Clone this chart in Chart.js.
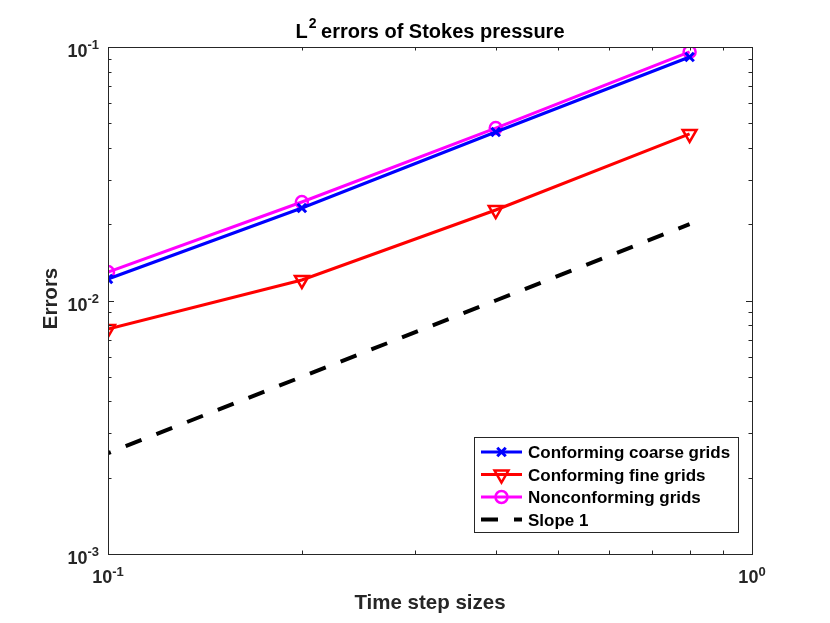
<!DOCTYPE html>
<html lang="en">
<head>
    <meta charset="UTF-8">
    <title>L2 errors of Stokes pressure</title>
    <script src="https://cdn.jsdelivr.net/npm/chart.js"></script>
    <style>
      html, body { margin: 0; padding: 0; background: #fff; }
      #wrap { width: 830px; height: 623px; }
    </style>
</head>
<body>
    <div id="wrap"><canvas id="errChart" width="830" height="623"></canvas></div>

    <script>
      // time step sizes (x) and the errors
      const stepSizes = [0.1, 0.2, 0.4, 0.8];
      const coarseErr = [0.01216, 0.02317, 0.0462, 0.0913];
      const fineErr = [0.00772, 0.01205, 0.02275, 0.0454];
      const nonconfErr = [0.01295, 0.02446, 0.0479, 0.0956];
      const slopeRef = [0.0025, 0.005, 0.01, 0.02];

      const seriesNames = [
        "Conforming coarse grids",
        "Conforming fine grids",
        "Nonconforming grids",
        "Slope 1"
      ];

      // decade tick labels (shown as 10^exp)
      const xTicks = [0.1, 1];
      const yTicks = [0.001, 0.01, 0.1];

      const FONT = "'Liberation Sans', Arial, Helvetica, sans-serif";
      const AXIS_COL = "#262626";

      function pts(ys) {
        return stepSizes.map(function (x, i) {
          return { x: x, y: ys[i] };
        });
      }

      // draws "10" with a raised exponent
      function drawPow(ctx, exp, x, y, align, baseSize, expSize, rise) {
        ctx.font = "bold " + baseSize + "px " + FONT;
        const wb = ctx.measureText("10").width;
        ctx.font = "bold " + expSize + "px " + FONT;
        const we = ctx.measureText(String(exp)).width;
        let start = x;
        if (align === "center") start = x - (wb + we) / 2;
        if (align === "right") start = x - (wb + we);
        ctx.textAlign = "left";
        ctx.textBaseline = "alphabetic";
        ctx.font = "bold " + baseSize + "px " + FONT;
        ctx.fillText("10", start, y);
        ctx.font = "bold " + expSize + "px " + FONT;
        ctx.fillText(String(exp), start + wb, y - rise);
      }

      // MATLAB-like frame: box, inward ticks, labels, title, legend
      const matlabFrame = {
        id: "matlabFrame",
        afterDatasetsDraw(chart) {
          const ctx = chart.ctx;
          const a = chart.chartArea;
          const xs = chart.scales.x;
          const ys = chart.scales.y;
          ctx.save();

          ctx.strokeStyle = AXIS_COL;
          ctx.lineWidth = 1;
          ctx.strokeRect(a.left + 0.5, a.top + 0.5, a.right - a.left, a.bottom - a.top);

          // ticks
          function ticksFor(decades) {
            const out = [];
            for (let i = 0; i < decades.length; i++) {
              out.push({ v: decades[i], major: true });
              if (i < decades.length - 1) {
                for (let k = 2; k <= 9; k++) out.push({ v: decades[i] * k, major: false });
              }
            }
            return out;
          }
          ctx.beginPath();
          ticksFor(xTicks).forEach(function (t) {
            const px = Math.round(xs.getPixelForValue(t.v)) + 0.5;
            const len = t.major ? 6 : 3.5;
            ctx.moveTo(px, a.bottom); ctx.lineTo(px, a.bottom - len);
            ctx.moveTo(px, a.top); ctx.lineTo(px, a.top + len);
          });
          ticksFor(yTicks).forEach(function (t) {
            const py = Math.round(ys.getPixelForValue(t.v)) + 0.5;
            const len = t.major ? 6 : 3.5;
            ctx.moveTo(a.left, py); ctx.lineTo(a.left + len, py);
            ctx.moveTo(a.right, py); ctx.lineTo(a.right - len, py);
          });
          ctx.stroke();

          // tick labels
          ctx.fillStyle = AXIS_COL;
          xTicks.forEach(function (v) {
            const px = xs.getPixelForValue(v);
            drawPow(ctx, Math.round(Math.log10(v)), px, a.bottom + 29, "center", 18, 13, 7);
          });
          yTicks.forEach(function (v) {
            const py = ys.getPixelForValue(v);
            drawPow(ctx, Math.round(Math.log10(v)), a.left - 9, py + 10, "right", 18, 13, 8);
          });

          // axis titles
          ctx.fillStyle = "#262626";
          ctx.font = "bold 20.5px " + FONT;
          ctx.textAlign = "center";
          ctx.textBaseline = "alphabetic";
          ctx.fillText("Time step sizes", (a.left + a.right) / 2, 609);
          ctx.save();
          ctx.translate(57, (a.top + a.bottom) / 2 - 2);
          ctx.rotate(-Math.PI / 2);
          ctx.fillText("Errors", 0, 0);
          ctx.restore();

          // title with superscript
          ctx.fillStyle = "#000";
          ctx.font = "bold 20px " + FONT;
          const t1 = "L", t3 = " errors of Stokes pressure";
          const w1 = ctx.measureText(t1).width;
          const w3 = ctx.measureText(t3).width;
          ctx.font = "bold 14px " + FONT;
          const w2 = ctx.measureText("2").width;
          let tx = (a.left + a.right) / 2 - (w1 + w2 + w3) / 2;
          ctx.textAlign = "left";
          ctx.font = "bold 20px " + FONT;
          ctx.fillText(t1, tx, 38);
          ctx.font = "bold 14px " + FONT;
          ctx.fillText("2", tx + w1 + 1, 28);
          ctx.font = "bold 20px " + FONT;
          ctx.fillText(t3, tx + w1 + w2, 38);

          // legend
          const lx = 474, ly = 437, lw = 264, lh = 95;
          ctx.fillStyle = "#fff";
          ctx.fillRect(lx, ly, lw, lh);
          ctx.strokeStyle = AXIS_COL;
          ctx.lineWidth = 1;
          ctx.strokeRect(lx + 0.5, ly + 0.5, lw, lh);
          chart.data.datasets.forEach(function (ds, i) {
            const yy = 452 + i * 22.5;
            ctx.save();
            ctx.strokeStyle = ds.borderColor;
            ctx.lineWidth = ds.borderWidth;
            ctx.setLineDash(ds.borderDash || []);
            ctx.beginPath();
            ctx.moveTo(481, yy);
            ctx.lineTo(522, yy);
            ctx.stroke();
            ctx.restore();
            if (ds.pointStyle && ds.pointRadius > 0) {
              ctx.save();
              ctx.strokeStyle = ds.borderColor;
              ctx.fillStyle = "rgba(0,0,0,0)";
              ctx.lineWidth = ds.pointBorderWidth;
              Chart.helpers.drawPoint(ctx, {
                pointStyle: ds.pointStyle,
                rotation: ds.pointRotation || 0,
                radius: ds.pointRadius,
                borderWidth: ds.pointBorderWidth
              }, 501.5, yy);
              ctx.restore();
            }
            ctx.fillStyle = "#000";
            ctx.font = "bold 17px " + FONT;
            ctx.textAlign = "left";
            ctx.textBaseline = "alphabetic";
            ctx.fillText(ds.label, 528, yy + 6);
          });

          ctx.restore();
        }
      };

      const ctx = document.getElementById("errChart").getContext("2d");
      const errChart = new Chart(ctx, {
        type: "line",
        data: {
          datasets: [
            {
              label: seriesNames[0],
              data: pts(coarseErr),
              borderColor: "#0000ff",
              borderWidth: 3,
              pointStyle: "crossRot",
              pointRadius: 6,
              pointBorderWidth: 3,
              pointBackgroundColor: "rgba(0,0,0,0)"
            },
            {
              label: seriesNames[1],
              data: pts(fineErr),
              borderColor: "#ff0000",
              borderWidth: 3,
              pointStyle: "triangle",
              pointRotation: 180,
              pointRadius: 8,
              pointBorderWidth: 2.5,
              pointBackgroundColor: "rgba(0,0,0,0)"
            },
            {
              label: seriesNames[2],
              data: pts(nonconfErr),
              borderColor: "#ff00ff",
              borderWidth: 3,
              pointStyle: "circle",
              pointRadius: 6,
              pointBorderWidth: 2.5,
              pointBackgroundColor: "rgba(0,0,0,0)"
            },
            {
              label: seriesNames[3],
              data: pts(slopeRef),
              borderColor: "#000000",
              borderWidth: 4,
              borderDash: [17, 16],
              borderDashOffset: 14,
              pointRadius: 0
            }
          ]
        },
        options: {
          responsive: false,
          animation: false,
          devicePixelRatio: 1,
          layout: { padding: { left: 108, right: 78, top: 47, bottom: 69 } },
          elements: { line: { tension: 0 } },
          plugins: {
            legend: { display: false },
            title: { display: false },
            tooltip: { enabled: false }
          },
          scales: {
            x: { type: "logarithmic", min: 0.1, max: 1, display: false },
            y: { type: "logarithmic", min: 0.001, max: 0.1, display: false }
          }
        },
        plugins: [matlabFrame]
      });
    </script>
</body>
</html>
